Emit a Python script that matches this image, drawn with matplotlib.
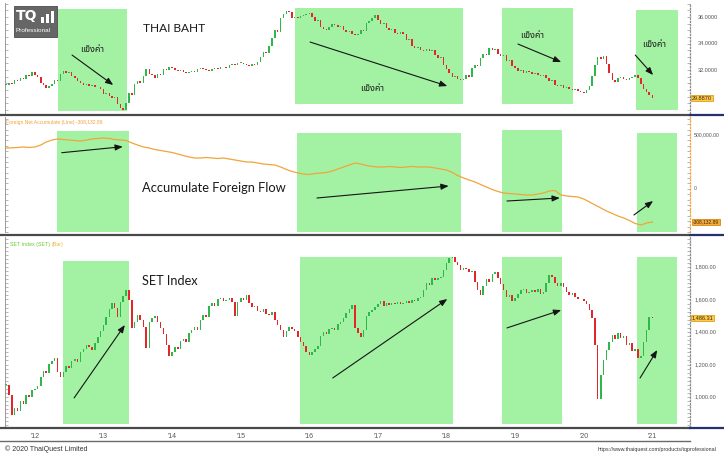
import numpy as np
import pandas as pd
import matplotlib
matplotlib.use("Agg")
import matplotlib.pyplot as plt
from matplotlib.patches import Rectangle
from matplotlib.lines import Line2D
from matplotlib.ticker import MultipleLocator, NullLocator
from matplotlib import font_manager
from matplotlib.ft2font import FT2Font

# ---------------- data ----------------
# USD/THB, semi-monthly closes starting 1 Aug 2011
thb_2011 = [30.87, 31.05, 30.95, 31.25, 31.18, 31.40, 31.32, 31.62, 31.55, 31.85]
thb_2012 = [31.62, 31.45, 31.02, 30.85, 30.64, 30.79, 30.98, 31.25, 31.20, 31.70, 31.92, 31.80,
            31.88, 31.55, 31.38, 31.17, 31.05, 30.87, 30.95, 30.79, 30.85, 30.72, 30.68, 30.57]
thb_2013 = [30.19, 30.25, 30.04, 29.89, 29.95, 29.43, 29.13, 28.98, 29.51, 30.26, 30.15, 30.94,
            31.17, 31.05, 31.55, 32.08, 31.70, 31.60, 31.40, 31.70, 31.62, 32.08, 32.00, 32.23]
thb_2014 = [32.15, 32.02, 31.92, 31.98, 31.85, 31.77, 31.85, 31.92, 31.88, 32.08, 32.15, 32.05,
            32.00, 31.95, 32.08, 32.15, 32.10, 32.20, 32.23, 32.18, 32.38, 32.45, 32.40, 32.53]
thb_2015 = [32.53, 32.45, 32.38, 32.30, 32.45, 32.40, 32.60, 32.98, 33.36, 33.30, 33.81, 34.42,
            35.02, 34.90, 35.92, 36.23, 36.45, 36.38, 35.92, 36.02, 35.95, 36.08, 36.15, 36.23]
thb_2016 = [36.30, 36.00, 35.70, 35.80, 35.25, 35.09, 35.02, 35.25, 35.47, 35.40, 35.25, 35.30,
            35.02, 34.87, 34.95, 34.72, 34.64, 34.72, 35.02, 34.95, 35.55, 35.70, 35.92, 36.15]
thb_2017 = [35.77, 35.47, 35.55, 35.17, 35.02, 35.10, 34.79, 34.70, 34.87, 34.72, 34.26, 34.35,
            33.81, 33.66, 33.75, 33.51, 33.45, 33.58, 33.43, 33.50, 33.13, 32.91, 33.00, 32.38]
thb_2018 = [32.08, 31.77, 31.47, 31.55, 31.32, 31.25, 31.32, 31.62, 31.50, 32.15, 32.38, 32.28,
            32.91, 33.21, 33.10, 33.66, 33.51, 33.60, 33.21, 33.06, 33.15, 32.68, 32.75, 32.30]
thb_2019 = [32.15, 31.95, 32.00, 31.80, 31.92, 31.85, 31.70, 31.78, 31.62, 31.55, 31.62, 31.40,
            31.17, 31.25, 30.87, 30.79, 30.85, 30.64, 30.70, 30.57, 30.49, 30.55, 30.42, 30.34]
thb_2020 = [30.26, 30.49, 30.79, 31.55, 32.38, 32.98, 32.80, 33.06, 32.45, 31.77, 31.25, 31.10,
            31.40, 31.47, 31.32, 31.25, 31.40, 31.47, 31.62, 31.40, 30.94, 30.57, 30.34, 30.11]
thb_2021 = [29.887]

# SET Index, semi-monthly closes starting 1 Aug 2011
set_2011 = [1074, 1012, 889, 935, 915, 975, 960, 1012, 1000, 1043]
set_2012 = [1049, 1068, 1123, 1160, 1150, 1203, 1222, 1240, 1154, 1123, 1154, 1191,
            1180, 1222, 1234, 1215, 1277, 1295, 1320, 1308, 1289, 1332, 1369, 1406]
set_2013 = [1443, 1492, 1542, 1578, 1548, 1492, 1585, 1622, 1658, 1597, 1425, 1462,
            1505, 1474, 1431, 1302, 1462, 1486, 1500, 1462, 1425, 1388, 1320, 1252]
set_2014 = [1277, 1308, 1295, 1345, 1357, 1340, 1394, 1412, 1431, 1415, 1474, 1505,
            1490, 1560, 1578, 1560, 1603, 1609, 1590, 1597, 1610, 1585, 1498, 1585]
set_2015 = [1609, 1595, 1628, 1578, 1554, 1560, 1529, 1523, 1540, 1511, 1505, 1520,
            1474, 1443, 1412, 1369, 1406, 1431, 1418, 1406, 1369, 1338, 1314, 1277]
set_2016 = [1258, 1277, 1295, 1314, 1375, 1400, 1385, 1418, 1425, 1410, 1449, 1462,
            1486, 1517, 1540, 1566, 1425, 1394, 1369, 1412, 1498, 1523, 1535, 1554]
set_2017 = [1572, 1590, 1560, 1578, 1566, 1580, 1570, 1585, 1575, 1578, 1591, 1580,
            1597, 1590, 1609, 1615, 1658, 1702, 1690, 1732, 1720, 1735, 1738, 1782]
set_2018 = [1825, 1855, 1862, 1831, 1812, 1780, 1794, 1788, 1769, 1775, 1708, 1658,
            1628, 1683, 1726, 1710, 1757, 1769, 1732, 1695, 1658, 1615, 1630, 1591]
set_2019 = [1609, 1634, 1658, 1665, 1640, 1646, 1658, 1645, 1665, 1634, 1646, 1702,
            1751, 1738, 1702, 1683, 1702, 1677, 1646, 1628, 1640, 1615, 1600, 1603]
set_2020 = [1591, 1572, 1535, 1486, 1320, 990, 1135, 1228, 1289, 1338, 1382, 1360,
            1394, 1363, 1375, 1320, 1330, 1283, 1295, 1240, 1252, 1338, 1412, 1492]
set_2021 = [1486.31]

# Accumulated foreign net flow (million baht), monthly starting Aug 2011
flow_2011 = [379000, 381000, 384000, 388500, 384000]
flow_2012 = [388500, 407000, 435000, 453500, 463000, 458000, 453500, 449000, 444000, 453500, 463000, 467500]
flow_2013 = [472000, 467500, 458000, 453500, 449000, 425700, 407000, 388500, 379000, 365300, 356000, 346700]
flow_2014 = [337400, 323500, 309600, 295600, 286300, 286300, 291000, 286300, 281700, 286300, 277000, 267800]
flow_2015 = [258500, 249200, 249200, 239900, 230600, 226000, 221300, 202800, 179500, 161000, 147000, 137700]
flow_2016 = [133100, 142400, 147000, 151700, 165600, 184200, 202800, 221300, 239900, 230600, 216700, 207400]
flow_2017 = [202800, 202800, 207400, 202800, 198100, 202800, 207400, 202800, 202800, 202800, 193500, 184200]
flow_2018 = [174900, 151700, 123800, 100600, 82000, 63400, 40200, 16900, -6300, -24800, -38800, -43400]
flow_2019 = [-48100, -52700, -57300, -57300, -48100, -38800, -20200, -15500, -57300, -66600, -71300, -75900]
flow_2020 = [-94500, -122400, -150200, -178100, -206000, -229200, -252400, -271000, -294200, -322100, -336000, -317400]
flow_2021 = [-308132.89]

thb_close = thb_2011 + thb_2012 + thb_2013 + thb_2014 + thb_2015 + thb_2016 + thb_2017 + thb_2018 + thb_2019 + thb_2020 + thb_2021
set_close = set_2011 + set_2012 + set_2013 + set_2014 + set_2015 + set_2016 + set_2017 + set_2018 + set_2019 + set_2020 + set_2021
flow_accum = flow_2011 + flow_2012 + flow_2013 + flow_2014 + flow_2015 + flow_2016 + flow_2017 + flow_2018 + flow_2019 + flow_2020 + flow_2021

year_ticks = [2012, 2013, 2014, 2015, 2016, 2017, 2018, 2019, 2020, 2021]
year_labels = ["'12", "'13", "'14", "'15", "'16", "'17", "'18", "'19", "'20", "'21"]

thb_axis_ticks = [36.0, 34.0, 32.0]
flow_axis_ticks = [500000.0, 0.0]
set_axis_ticks = [1800.0, 1600.0, 1400.0, 1200.0, 1000.0]

# highlighted periods per panel: (start, end, low, high)
thb_zones = [(2012.335, 2013.341, 28.91, 36.60), (2015.79, 2018.24, 29.43, 36.68),
             (2018.81, 2019.84, 29.43, 36.68), (2020.76, 2021.37, 29.00, 36.53)]
flow_zones = [(2012.32, 2013.37, -402000, 537000), (2015.82, 2018.21, -402000, 518600),
              (2018.81, 2019.68, -402000, 546400), (2020.77, 2021.36, -402000, 518600)]
set_zones = [(2012.41, 2013.37, 834, 1837), (2015.86, 2018.09, 834, 1862),
             (2018.81, 2019.68, 834, 1862), (2020.78, 2021.36, 834, 1862)]

# trend arrows per panel: ((x0, y0), (x1, y1))
thb_arrows = [((2012.54, 33.13), (2013.14, 30.87)), ((2016.01, 34.11), (2018.01, 30.79)),
              ((2019.04, 33.96), (2019.67, 32.60)), ((2020.75, 33.13), (2021.01, 31.62))]
flow_arrows = [((2012.39, 335600), (2013.28, 391300)), ((2016.11, -85200), (2018.03, 26300)),
               ((2018.88, -113100), (2019.65, -85200)), ((2020.73, -243100), (2021.01, -113100))]
set_arrows = [((2012.57, 994), (2013.31, 1443)), ((2016.34, 1117), (2018.01, 1603)),
              ((2018.88, 1425), (2019.67, 1535)), ((2020.82, 1117), (2021.07, 1289))]

thai_label = "แข็งค่า"
thai_label_pos = [(2012.83, 33.51), (2016.91, 30.64), (2019.24, 34.64), (2021.02, 33.89)]

# ---------------- helpers ----------------
W, H, DPI = 724, 457, 100
XLIM = (2011.563, 2021.548)
ZONE_GREEN = "#a3f2a3"
UP, DOWN = "#2fb84a", "#e2262a"
ORANGE = "#f2a43a"
NAVY = "#27306e"


def decimal_year(idx):
    days = np.where(idx.is_leap_year, 366.0, 365.0)
    return np.asarray(idx.year + (idx.dayofyear - 1) / days, dtype=float)


def find_family(ch, preferred=()):
    code = ord(ch)
    names = list(preferred) + sorted({f.name for f in font_manager.fontManager.ttflist})
    by_name = {}
    for f in font_manager.fontManager.ttflist:
        by_name.setdefault(f.name, []).append(f.fname)
    for name in names:
        for path in by_name.get(name, []):
            try:
                if code in FT2Font(path).get_charmap():
                    return name
            except Exception:
                pass
    return "DejaVu Sans"


THAI_FAMILY = find_family("แ", preferred=("Noto Sans Thai", "Noto Sans Thai Looped", "Loma",
                                           "Garuda", "Tlwg Typist", "Waree", "Sarabun"))
TITLE_FAMILY = ["Lato", "DejaVu Sans"]
AXIS_FAMILY = ["Liberation Sans Narrow", "Liberation Sans", "DejaVu Sans"]


def px_axes(x0, y0, x1, y1):
    return fig.add_axes([x0 / W, 1 - y1 / H, (x1 - x0) / W, (y1 - y0) / H])


def style_axes(ax, ylim, minor_step, right_color):
    ax.set_xlim(*XLIM)
    ax.set_ylim(*ylim)
    ax.set_facecolor("white")
    for s in ("top", "bottom"):
        ax.spines[s].set_visible(False)
    ax.spines["left"].set_color("#9a9a9a")
    ax.spines["left"].set_linewidth(0.7)
    ax.spines["right"].set_color(right_color)
    ax.spines["right"].set_linewidth(0.9)
    ax.spines["right"].set_linestyle((0, (1, 1.6)))
    ax.set_xticks([])
    ax.yaxis.set_major_locator(NullLocator())
    ax.yaxis.set_minor_locator(MultipleLocator(minor_step))
    ax.tick_params(axis="y", which="minor", left=True, right=True, direction="in",
                   length=2, width=0.5, color="#9a9a9a")


def draw_zones(ax, zones):
    for x0, x1, y0, y1 in zones:
        ax.add_patch(Rectangle((x0, y0), x1 - x0, y1 - y0, facecolor=ZONE_GREEN,
                               edgecolor="none", zorder=1))


def draw_candles(ax, t, close, min_body):
    close = np.asarray(close, dtype=float)
    opn = np.r_[close[0], close[:-1]]
    diff = close - opn
    colors = np.where(diff >= 0, UP, DOWN)
    body = np.where(np.abs(diff) < min_body, np.where(diff >= 0, min_body, -min_body), diff)
    ax.bar(t, body, bottom=opn, width=0.022, color=colors, linewidth=0, zorder=3)


def draw_arrows(ax, arrows):
    for start, end in arrows:
        ax.annotate("", xy=end, xytext=start, zorder=5,
                    arrowprops=dict(arrowstyle="-|>,head_length=0.45,head_width=0.18",
                                    color="#151515", lw=0.8, shrinkA=0, shrinkB=0))


def right_labels(ax, ticks, fmt, xfrac, size=4.0):
    tr = ax.get_yaxis_transform()
    for v in ticks:
        ax.text(xfrac, v, fmt(v), transform=tr, ha="left", va="center", fontsize=size,
                color="#555555", family=AXIS_FAMILY, clip_on=False)


def highlight_label(ax, value, text, xfrac, face, edge, size=4.0):
    ax.text(xfrac, value, text, transform=ax.get_yaxis_transform(), ha="left", va="center",
            fontsize=size, color="#3a2a00", family=AXIS_FAMILY, clip_on=False, zorder=6,
            bbox=dict(boxstyle="square,pad=0.15", facecolor=face, edgecolor=edge, linewidth=0.6))


# ---------------- figure ----------------
fig = plt.figure(figsize=(W / DPI, H / DPI), dpi=DPI)
fig.patch.set_facecolor("white")

t_semi = decimal_year(pd.date_range("2011-08-01", periods=len(thb_close), freq="SMS"))
t_semi_set = decimal_year(pd.date_range("2011-08-01", periods=len(set_close), freq="SMS"))
t_month = decimal_year(pd.date_range("2011-08-01", periods=len(flow_accum), freq="MS"))

ax1 = px_axes(5, 3, 690, 113)
ax2 = px_axes(5, 117, 690, 232)
ax3 = px_axes(5, 237, 690, 427)

# THAI BAHT
style_axes(ax1, (28.755, 37.057), 0.5, "#8a8a8a")
draw_zones(ax1, thb_zones)
draw_candles(ax1, t_semi, thb_close, 0.04)
draw_arrows(ax1, thb_arrows)
ax1.text(2013.574, 35.17, "THAI BAHT", fontsize=8.6, family=TITLE_FAMILY, color="#1a1a1a",
         ha="left", va="center", zorder=6)
for (x, y) in thai_label_pos:
    ax1.text(x, y, thai_label, fontsize=6.5, family=[THAI_FAMILY, "DejaVu Sans"],
             color="#1a1a1a", ha="center", va="center", zorder=6)
right_labels(ax1, thb_axis_ticks, lambda v: f"{v:.4f}", 1.012)
highlight_label(ax1, thb_close[-1], f"{thb_close[-1]:.4f}", 1.003, "#ffc94a", "#e0a020")

# Accumulated foreign flow
style_axes(ax2, (-401033, 667202), 50000, ORANGE)
draw_zones(ax2, flow_zones)
ax2.plot(t_month, flow_accum, color=ORANGE, lw=0.9, zorder=3)
draw_arrows(ax2, flow_arrows)
ax2.text(2013.56, 7700, "Accumulate Foreign Flow", fontsize=9.3, family=TITLE_FAMILY,
         color="#1a1a1a", ha="left", va="center", zorder=6)
ax2.text(0.0015, 0.955, "Foreign Net Accumulate (Line) -308,132.89", transform=ax2.transAxes,
         fontsize=3.6, color=ORANGE, ha="left", va="center", family=AXIS_FAMILY)
right_labels(ax2, flow_axis_ticks,
             lambda v: f"{v:,.2f}" if v != 0 else "0", 1.006, size=3.7)
highlight_label(ax2, flow_accum[-1], f"{flow_accum[-1]:,.2f}", 1.004, "#f6a93c", "#d9861a",
                size=3.5)

# SET Index
style_axes(ax3, (815.4, 1984.6), 25, "#8a8a8a")
draw_zones(ax3, set_zones)
draw_candles(ax3, t_semi_set, set_close, 4)
draw_arrows(ax3, set_arrows)
ax3.text(2013.56, 1714, "SET Index", fontsize=9.2, family=TITLE_FAMILY, color="#1a1a1a",
         ha="left", va="center", zorder=6)
ax3.text(0.007, 0.962, "SET Index (SET)", transform=ax3.transAxes, fontsize=3.8,
         color="#66cc33", ha="left", va="center", family=AXIS_FAMILY)
ax3.text(0.068, 0.962, "(Bar)", transform=ax3.transAxes, fontsize=3.8,
         color="#f2b233", ha="left", va="center", family=AXIS_FAMILY)
right_labels(ax3, set_axis_ticks, lambda v: f"{v:,.2f}", 1.006)
highlight_label(ax3, set_close[-1], f"{set_close[-1]:,.2f}", 1.002, "#ffc94a", "#e0a020")

# time axis labels under the bottom panel
ax3.set_xticks(year_ticks)
ax3.set_xticklabels(year_labels, fontsize=5, color="#555555", family=AXIS_FAMILY)
ax3.tick_params(axis="x", length=0, pad=4)

# panel separators and frame lines (figure pixel coordinates)
def hline(y, x0, x1, color, lw):
    fig.add_artist(Line2D([x0 / W, x1 / W], [1 - y / H, 1 - y / H], color=color, lw=lw))

for y in (115, 234.5, 428):
    hline(y, 0, 690, "#4a4a4a", 1.6)
    hline(y, 690, W, NAVY, 1.6)
hline(441, 0, 690, "#6a6a6a", 1.0)

# logo badge
fig.add_artist(Rectangle((14 / W, 1 - 37 / H), 43 / W, 31 / H, transform=fig.transFigure,
                         facecolor="#666666", edgecolor="#4a4a4a", lw=0.6))
fig.text(16 / W, 1 - 16 / H, "TQ", fontsize=10, fontweight="bold", color="white",
         family=["DejaVu Sans"], ha="left", va="center")
for bx, bh in ((41, 6), (46, 9), (51, 12)):
    fig.add_artist(Rectangle((bx / W, 1 - 23 / H), 3 / W, bh / H, transform=fig.transFigure,
                             facecolor="white", edgecolor="none"))
fig.text(16 / W, 1 - 31 / H, "Professional", fontsize=4.6, color="white",
         family=AXIS_FAMILY, ha="left", va="center")

# footer
fig.text(5 / W, 1 - 449 / H, "© 2020 ThaiQuest Limited", fontsize=5, color="#333333",
         family=AXIS_FAMILY, ha="left", va="center")
fig.text(598 / W, 1 - 449 / H, "https://www.thaiquest.com/products/tqprofessional",
         fontsize=3.8, color="#333333", family=AXIS_FAMILY, ha="left", va="center")

fig.savefig("out.png", dpi=DPI, facecolor="white")
